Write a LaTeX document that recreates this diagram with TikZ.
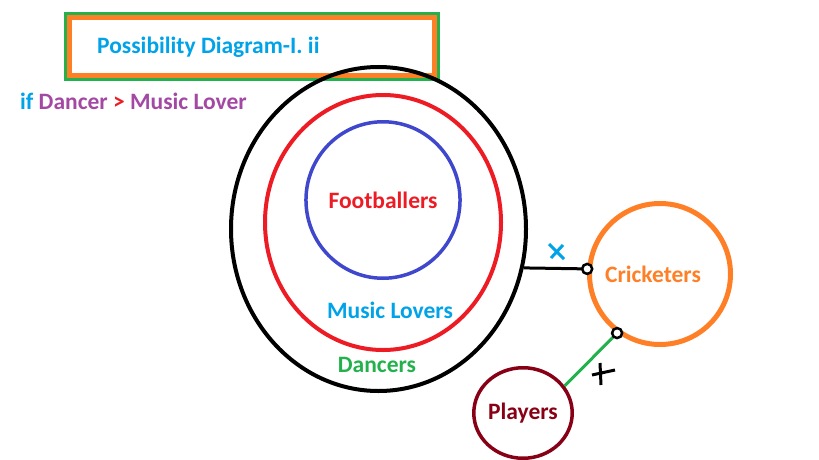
\documentclass[tikz,border=0pt]{standalone}
\usepackage{fontspec}
\setmainfont{Carlito}
\usetikzlibrary{shapes.geometric}

\definecolor{skyblue}{RGB}{0,162,232}
\definecolor{plum}{RGB}{163,73,164}
\definecolor{brightred}{RGB}{237,28,36}
\definecolor{leafgreen}{RGB}{34,177,76}
\definecolor{paintorange}{RGB}{255,127,39}
\definecolor{indigoblue}{RGB}{63,72,204}
\definecolor{maroon}{RGB}{136,0,21}

\tikzset{
  set/.style={ellipse, inner sep=0pt, font=\bfseries\fontsize{23.5}{26}\selectfont},
  label text/.style={inner sep=0pt, font=\bfseries\fontsize{23.5}{26}\selectfont},
  joint/.style={circle, draw=black, fill=white, line width=2.5pt, inner sep=0pt, minimum size=10pt}
}

\begin{document}
\begin{tikzpicture}[x=1pt,y=-1pt]
\useasboundingbox (0,0) rectangle (819,460);

% title frame
\node[draw=leafgreen, line width=3pt, minimum width=372.5pt, minimum height=66pt, inner sep=0pt] (frame) at (251.75,46.5) {};
\node[draw=paintorange, line width=5pt, minimum width=365.5pt, minimum height=58.5pt, inner sep=0pt] (title) at (251.75,46.5) {};
\node[label text, text=skyblue, anchor=west] (titletext) at (97,47) {Possibility Diagram-I. ii};

\node[label text, anchor=west] (cond) at (20,101) {\textcolor{skyblue}{if} \textcolor{plum}{Dancer} \textcolor{brightred}{>} \textcolor{plum}{Music Lover}};

% sets
\node[set, draw=black, line width=4pt, minimum width=295pt, minimum height=324pt] (dan) at (378.5,229) {};
\node[set, draw=brightred, line width=4pt, minimum width=236pt, minimum height=255pt] (mus) at (383,222.5) {};
\node[set, draw=indigoblue, line width=3.5pt, minimum width=152.5pt, minimum height=156.5pt, text=brightred] (foot) at (383,200) {Footballers};
\node[set, draw=paintorange, line width=5pt, minimum width=141pt, minimum height=141pt, text=paintorange] (cric) at (660,274) {\hspace*{-14pt}Cricketers};
\node[set, draw=maroon, line width=3.5pt, minimum width=90.5pt, minimum height=90.5pt, text=maroon] (play) at (523,413) {Players};

\node[label text, text=skyblue] (muslabel) at (390,310) {Music Lovers};
\node[label text, text=leafgreen] (danlabel) at (377,365) {Dancers};

% links
\coordinate (j1) at (cric.176);
\coordinate (j2) at (cric.234);
\draw[line width=3pt] (dan.-15) -- (j1);
\draw[leafgreen, line width=3pt] (play.33) -- (j2);
\node[joint] (k1) at (j1) {};
\node[joint] (k2) at (j2) {};

% marks
\draw[skyblue, line width=3pt] (549,244) -- (564,259) (563,245) -- (551,258);
\draw[black, line width=3pt] (600,363) -- (601,385) (592,375) -- (615,370);

\end{tikzpicture}
\end{document}
